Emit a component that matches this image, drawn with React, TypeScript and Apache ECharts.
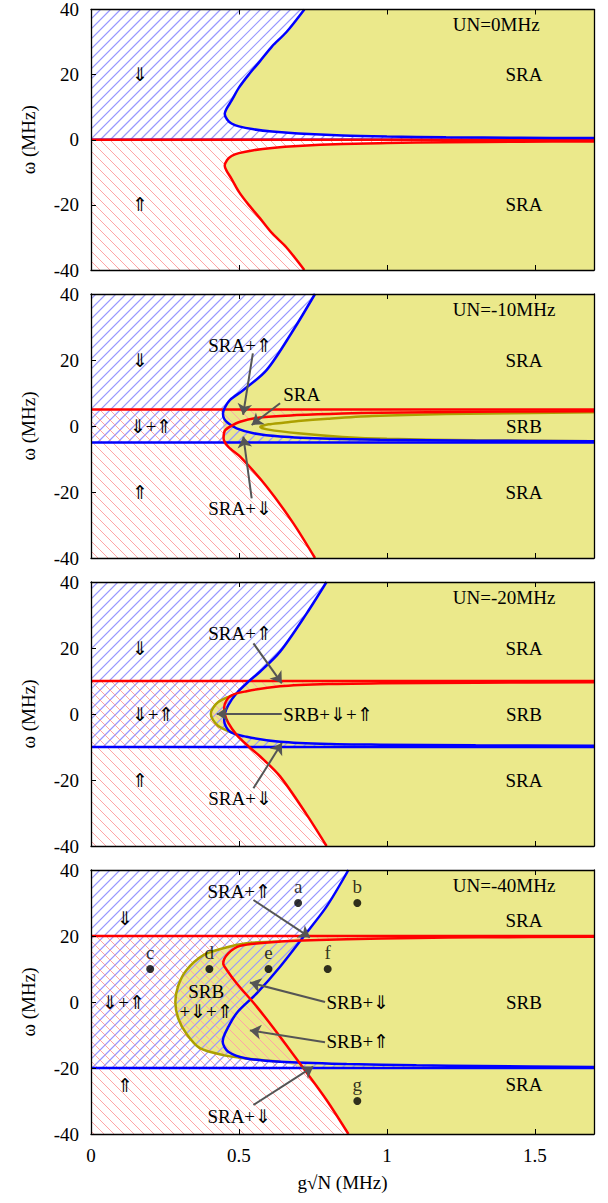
import React, { useEffect, useRef } from "react";
import * as echarts from "echarts";

type P = [number, number];

// ---------- data ----------
const panelTitles = ["UN=0MHz", "UN=-10MHz", "UN=-20MHz", "UN=-40MHz"];
const bandHalf = [0, 5, 10, 20];
const xTicks = [0, 0.5, 1, 1.5];
const yTicks = [-40, -20, 0, 20, 40];

const blue1: P[] = [[0.721, 40], [0.66, 33], [0.612, 28.7], [0.57, 24], [0.533, 20], [0.5, 16], [0.475, 12], [0.458, 9.5], [0.452, 8], [0.46, 6.2], [0.475, 5], [0.5, 4.1], [0.55, 3.2], [0.612, 2.5], [0.7, 1.9], [0.85, 1.3], [1.0, 1.0], [1.2, 0.75], [1.45, 0.6], [1.7, 0.5]];
const red1: P[] = [[0.721, -40], [0.66, -33], [0.612, -28.7], [0.57, -24], [0.533, -20], [0.5, -16], [0.475, -12], [0.458, -9.5], [0.452, -8], [0.46, -6.2], [0.475, -5], [0.5, -4.1], [0.55, -3.2], [0.612, -2.5], [0.7, -1.9], [0.85, -1.3], [1.0, -1.0], [1.2, -0.75], [1.45, -0.6], [1.7, -0.5]];

const blue2: P[] = [[0.757, 40], [0.684, 29.1], [0.594, 17], [0.515, 10.9], [0.47, 7.9], [0.452, 5.5], [0.446, 3.8], [0.45, 2.2], [0.464, 0.8], [0.492, -0.7], [0.549, -2.2], [0.639, -3.2], [0.808, -3.9], [0.977, -4.2], [1.3, -4.45], [1.7, -4.6]];
const red2: P[] = [[0.757, -40], [0.684, -29.5], [0.594, -18.4], [0.504, -9.3], [0.464, -6.3], [0.448, -3.7], [0.452, -1.5], [0.47, -0.2], [0.504, 1.3], [0.571, 2.6], [0.695, 3.3], [0.85, 3.8], [0.977, 4.0], [1.3, 4.3], [1.7, 4.5]];
const olive2: P[] = [[1.7, 4.2], [1.2, 3.6], [0.95, 3.0], [0.8, 2.2], [0.7, 1.5], [0.65, 1.0], [0.6, 0.5], [0.572, -0.3], [0.6, -1.1], [0.7, -2.2], [0.85, -3.3], [1.0, -3.9], [1.3, -4.3], [1.7, -4.6]];

const blue3: P[] = [[0.796, 40], [0.729, 30.5], [0.639, 18.9], [0.571, 12.8], [0.532, 9.8], [0.492, 6.3], [0.464, 2.7], [0.452, 0], [0.45, -2], [0.47, -5.4], [0.526, -6.9], [0.639, -8.4], [0.808, -9.1], [0.977, -9.3], [1.3, -9.5], [1.7, -9.6]];
const red3: P[] = [[0.796, -40], [0.729, -30.5], [0.639, -18.9], [0.571, -12.8], [0.532, -9.8], [0.492, -6.3], [0.464, -2.7], [0.452, 0], [0.45, 2], [0.47, 5.4], [0.526, 6.9], [0.639, 8.4], [0.808, 9.1], [0.977, 9.3], [1.3, 9.5], [1.7, 9.6]];
const olive3: P[] = [[0.49, 6.0], [0.46, 5.0], [0.43, 3.6], [0.412, 1.8], [0.405, 0], [0.412, -1.8], [0.43, -3.6], [0.46, -5.0], [0.49, -6.0]];

const blue4: P[] = [[0.87, 40], [0.796, 28.9], [0.718, 19.8], [0.639, 10.7], [0.56, 2.6], [0.492, -3.4], [0.453, -9.5], [0.445, -12], [0.464, -15.1], [0.526, -17.1], [0.639, -18.1], [0.864, -18.8], [1.1, -19.2], [1.315, -19.4], [1.7, -19.7]];
const red4: P[] = [[0.87, -40], [0.796, -29.7], [0.718, -20.1], [0.639, -10.5], [0.56, -1.4], [0.492, 5.7], [0.459, 9.7], [0.447, 11.7], [0.464, 14.7], [0.504, 17], [0.639, 18.3], [0.864, 19.0], [1.1, 19.4], [1.315, 19.6], [1.7, 19.8]];
const olive4: P[] = [[0.64, 18.3], [0.526, 17.8], [0.447, 16.3], [0.38, 14.2], [0.323, 9.7], [0.295, 5], [0.285, 0], [0.295, -5], [0.323, -9.7], [0.368, -14], [0.447, -16.1], [0.526, -17.1], [0.64, -18.1]];

const blueCurves = [blue1, blue2, blue3, blue4];
const redCurves = [red1, red2, red3, red4];
const oliveCurves: (P[] | null)[] = [null, olive2, olive3, olive4];
// index of the last point of each curve that lies on the outer boundary of the yellow region
const blueCut = [19, 6, 5, 2];
const redCut = [19, 5, 5, 2];
const useOliveInYellow = [false, false, true, true];

type T = [number, number, string, string?];
const texts1: T[] = [[0.167, 20, "⇓"], [0.167, -20, "⇑"], [1.463, 20, "SRA"], [1.463, -20, "SRA"], [1.223, 35.3, "UN=0MHz", "left"]];
const texts2: T[] = [[0.167, 20, "⇓"], [0.203, 0, "⇓+⇑"], [0.167, -20, "⇑"], [0.504, 24.5, "SRA+⇑"], [0.712, 9.4, "SRA"], [0.504, -25, "SRA+⇓"], [1.463, 20, "SRA"], [1.463, 0, "SRB"], [1.463, -20, "SRA"], [1.223, 35.3, "UN=-10MHz", "left"]];
const texts3: T[] = [[0.167, 20, "⇓"], [0.21, 0, "⇓+⇑"], [0.167, -20, "⇑"], [0.504, 24.5, "SRA+⇑"], [0.65, 0, "SRB+⇓+⇑", "left"], [0.504, -25.5, "SRA+⇓"], [1.463, 20, "SRA"], [1.463, 0, "SRB"], [1.463, -20, "SRA"], [1.223, 35.3, "UN=-20MHz", "left"]];
const texts4: T[] = [[0.115, 25.4, "⇓"], [0.11, 0, "⇓+⇑"], [0.115, -25.2, "⇑"], [0.501, 33.4, "SRA+⇑"], [0.389, 3.2, "SRB"], [0.389, -3, "+⇓+⇑"], [0.796, 0, "SRB+⇓", "left"], [0.796, -12, "SRB+⇑", "left"], [0.501, -34.8, "SRA+⇓"], [1.463, 24.8, "SRA"], [1.463, 0, "SRB"], [1.463, -25, "SRA"], [1.223, 35.3, "UN=-40MHz", "left"]];
const panelTexts = [texts1, texts2, texts3, texts4];

const arrows1: number[][] = [];
const arrows2 = [[0.547, 22, 0.514, 3.4], [0.639, 6.9, 0.543, 0.3], [0.543, -21.9, 0.515, -3.2]];
const arrows3 = [[0.549, 21.4, 0.645, 9.3], [0.645, 0, 0.425, 0], [0.549, -22.5, 0.645, -8.8]];
const arrows4 = [[0.549, 30.9, 0.74, 19.6], [0.791, 0, 0.537, 5.9], [0.791, -12.2, 0.537, -8.6], [0.549, -31.2, 0.751, -19.6]];
const panelArrows = [arrows1, arrows2, arrows3, arrows4];

const dots4: [number, number, string][] = [[0.7, 30, "a"], [0.9, 30, "b"], [0.2, 10, "c"], [0.4, 10, "d"], [0.6, 10, "e"], [0.8, 10, "f"], [0.9, -30, "g"]];

// ---------- style ----------
const X_MAX = 1.7;
const FONT = '"Liberation Serif", "Times New Roman", serif';
const FS = 19;
const YELLOW = "#ebe98b";
const BLUE = "#0000ff";
const RED = "#ff0000";
const OLIVE = "#aca000";
const BLUE_HATCH = "rgb(152,152,255)";
const RED_HATCH = "rgb(255,165,165)";
const ARROW = "#555555";
const gridTops = [6, 294, 582, 870];
const gridHeight = 264;

echarts.graphic.registerShape(
  "hatchLines",
  echarts.graphic.extendShape({
    shape: { segs: [] as number[][] },
    buildPath(ctx: any, shape: any) {
      const segs = shape.segs as number[][];
      for (let i = 0; i < segs.length; i++) {
        const s = segs[i];
        ctx.moveTo(s[0], s[1]);
        ctx.lineTo(s[2], s[3]);
      }
    },
  } as any)
);

function hatch(pts: number[][], dir: number, step: number) {
  const f = (p: number[]) => p[0] + dir * p[1];
  let mn = Infinity, mx = -Infinity;
  pts.forEach((p) => { const v = f(p); if (v < mn) mn = v; if (v > mx) mx = v; });
  const segs: number[][] = [];
  for (let c = Math.ceil(mn / step) * step; c <= mx; c += step) {
    const xs: number[][] = [];
    for (let i = 0; i < pts.length; i++) {
      const a = pts[i], b = pts[(i + 1) % pts.length];
      const fa = f(a) - c, fb = f(b) - c;
      if ((fa > 0) !== (fb > 0)) {
        const t = fa / (fa - fb);
        xs.push([a[0] + t * (b[0] - a[0]), a[1] + t * (b[1] - a[1])]);
      }
    }
    xs.sort((p, q) => p[0] - q[0]);
    for (let j = 0; j + 1 < xs.length; j += 2) segs.push([xs[j][0], xs[j][1], xs[j + 1][0], xs[j + 1][1]]);
  }
  return segs;
}

function regionsFor(i: number): P[][] {
  const b = blueCurves[i], r = redCurves[i], o = oliveCurves[i];
  const h = bandHalf[i];
  const yellow: P[] = [[X_MAX, 40], ...b.slice(0, blueCut[i] + 1)];
  if (useOliveInYellow[i] && o) yellow.push(...o);
  yellow.push(...r.slice(0, redCut[i] + 1).reverse(), [X_MAX, -40]);
  const blueHatch: P[] = [[0, 40], ...b, [X_MAX, -h], [0, -h]];
  const redHatch: P[] = [[0, -40], ...r, [X_MAX, h], [0, h]];
  return [yellow, blueHatch, redHatch];
}

function hatchSeries(xi: number, yi: number, poly: P[], dir: number, color: string, width: number) {
  return {
    type: "custom", xAxisIndex: xi, yAxisIndex: yi, z: 2, silent: true, clip: true,
    itemStyle: { color, borderColor: color },
    data: [[0.1, 0]],
    renderItem: (params: any, api: any) => {
      const pts = poly.map((p) => api.coord(p));
      const segs = hatch(pts, dir, 10);
      return {
        type: "hatchLines",
        shape: { segs },
        style: { stroke: color, lineWidth: width, fill: "none" },
      };
    },
  };
}

function buildOption() {
  const grid: any[] = [];
  const xAxis: any[] = [];
  const yAxis: any[] = [];
  const series: any[] = [];
  const axisLineStyle = { show: true, onZero: false, lineStyle: { color: "#000", width: 1.3 } };
  const tickStyle = { show: true, inside: true, length: 5, lineStyle: { color: "#000", width: 1 } };

  for (let i = 0; i < 4; i++) {
    grid.push({ left: 91, right: 14, top: gridTops[i], height: gridHeight });
    const last = i === 3;
    xAxis.push({
      type: "value", gridIndex: i, min: 0, max: X_MAX, interval: 0.5, position: "bottom", z: 10,
      axisLine: axisLineStyle, axisTick: tickStyle, splitLine: { show: false },
      axisLabel: { show: last, showMaxLabel: false, margin: 12, color: "#000", fontFamily: FONT, fontSize: FS,
        formatter: (v: number) => (xTicks.indexOf(v) >= 0 ? String(v) : "") },
      name: last ? "g√N (MHz)" : "", nameLocation: "middle", nameGap: 39,
      nameTextStyle: { color: "#000", fontFamily: FONT, fontSize: FS },
    });
    xAxis.push({
      type: "value", gridIndex: i, min: 0, max: X_MAX, interval: 0.5, position: "top", z: 10,
      axisLine: axisLineStyle, axisTick: tickStyle, splitLine: { show: false }, axisLabel: { show: false },
    });
    yAxis.push({
      type: "value", gridIndex: i, min: -40, max: 40, interval: 20, position: "left", z: 10,
      axisLine: axisLineStyle, axisTick: tickStyle, splitLine: { show: false },
      axisLabel: { margin: 12, color: "#000", fontFamily: FONT, fontSize: FS,
        formatter: (v: number) => (yTicks.indexOf(v) >= 0 ? String(v) : "") },
      name: "ω (MHz)", nameLocation: "middle", nameGap: 53,
      nameTextStyle: { color: "#000", fontFamily: FONT, fontSize: FS },
    });
    yAxis.push({
      type: "value", gridIndex: i, min: -40, max: 40, interval: 20, position: "right", z: 10,
      axisLine: axisLineStyle, axisTick: { show: false }, splitLine: { show: false }, axisLabel: { show: false },
    });

    const xi = 2 * i, yi = 2 * i;
    const regions = regionsFor(i);
    series.push({
      type: "custom", xAxisIndex: xi, yAxisIndex: yi, z: 1, silent: true, clip: true,
      itemStyle: { color: YELLOW },
      data: [[0.1, 0]],
      renderItem: (params: any, api: any) => {
        const pts = regions[0].map((p) => api.coord(p));
        return { type: "polygon", shape: { points: pts }, style: { fill: YELLOW, stroke: "none" } };
      },
    });
    series.push(hatchSeries(xi, yi, regions[1], 1, BLUE_HATCH, 1.2));
    series.push(hatchSeries(xi, yi, regions[2], -1, RED_HATCH, 1));

    const o = oliveCurves[i];
    if (o) {
      series.push({ type: "line", xAxisIndex: xi, yAxisIndex: yi, data: o, symbol: "none", smooth: 0.3, z: 3,
        lineStyle: { color: OLIVE, width: 2.5 } });
    }
    const h = bandHalf[i];
    series.push({ type: "line", xAxisIndex: xi, yAxisIndex: yi, data: [[0, -h], [X_MAX, -h]], symbol: "none", z: 4,
      lineStyle: { color: BLUE, width: 2.5 } });
    series.push({ type: "line", xAxisIndex: xi, yAxisIndex: yi, data: [[0, h], [X_MAX, h]], symbol: "none", z: 4,
      lineStyle: { color: RED, width: 2.5 } });
    series.push({ type: "line", xAxisIndex: xi, yAxisIndex: yi, data: blueCurves[i], symbol: "none", smooth: 0.3, z: 5,
      lineStyle: { color: BLUE, width: 2.5 } });
    series.push({ type: "line", xAxisIndex: xi, yAxisIndex: yi, data: redCurves[i], symbol: "none", smooth: 0.3, z: 6,
      lineStyle: { color: RED, width: 2.5 } });
    if (panelArrows[i].length) {
      series.push({
        type: "lines", coordinateSystem: "cartesian2d", xAxisIndex: xi, yAxisIndex: yi, z: 8, silent: true,
        data: panelArrows[i].map((a) => ({ coords: [[a[0], a[1]], [a[2], a[3]]] })),
        symbol: ["none", "arrow"], symbolSize: 11,
        lineStyle: { color: ARROW, width: 2, opacity: 1 },
      });
    }
    const tx = panelTexts[i];
    series.push({
      type: "custom", xAxisIndex: xi, yAxisIndex: yi, z: 12, silent: true, clip: false,
      data: tx.map((t) => [t[0], t[1]]),
      renderItem: (params: any, api: any) => {
        const t = tx[params.dataIndex];
        const p = api.coord([t[0], t[1]]);
        return { type: "text", x: p[0], y: p[1],
          style: { text: t[2], fill: "#000", font: `${FS}px ${FONT}`, align: t[3] || "center", verticalAlign: "middle" } };
      },
    });
    if (i === 3) {
      series.push({
        type: "scatter", xAxisIndex: xi, yAxisIndex: yi, z: 12, symbolSize: 8,
        itemStyle: { color: "#000" },
        data: dots4.map((d) => [d[0], d[1], d[2]]),
        label: { show: true, position: "top", distance: 3, color: "#000", fontFamily: FONT, fontSize: FS,
          formatter: (p: any) => p.data[2] },
      });
    }
  }
  return { animation: false, backgroundColor: "#fff", grid, xAxis, yAxis, series };
}

export default function App() {
  const ref = useRef<HTMLDivElement>(null);
  useEffect(() => {
    if (!ref.current) return;
    const chart = echarts.init(ref.current, undefined, { renderer: "svg" });
    chart.setOption(buildOption() as any);
    return () => chart.dispose();
  }, []);
  return <div ref={ref} style={{ position: "absolute", left: 0, top: 0, width: 608, height: 1203 }} />;
}
